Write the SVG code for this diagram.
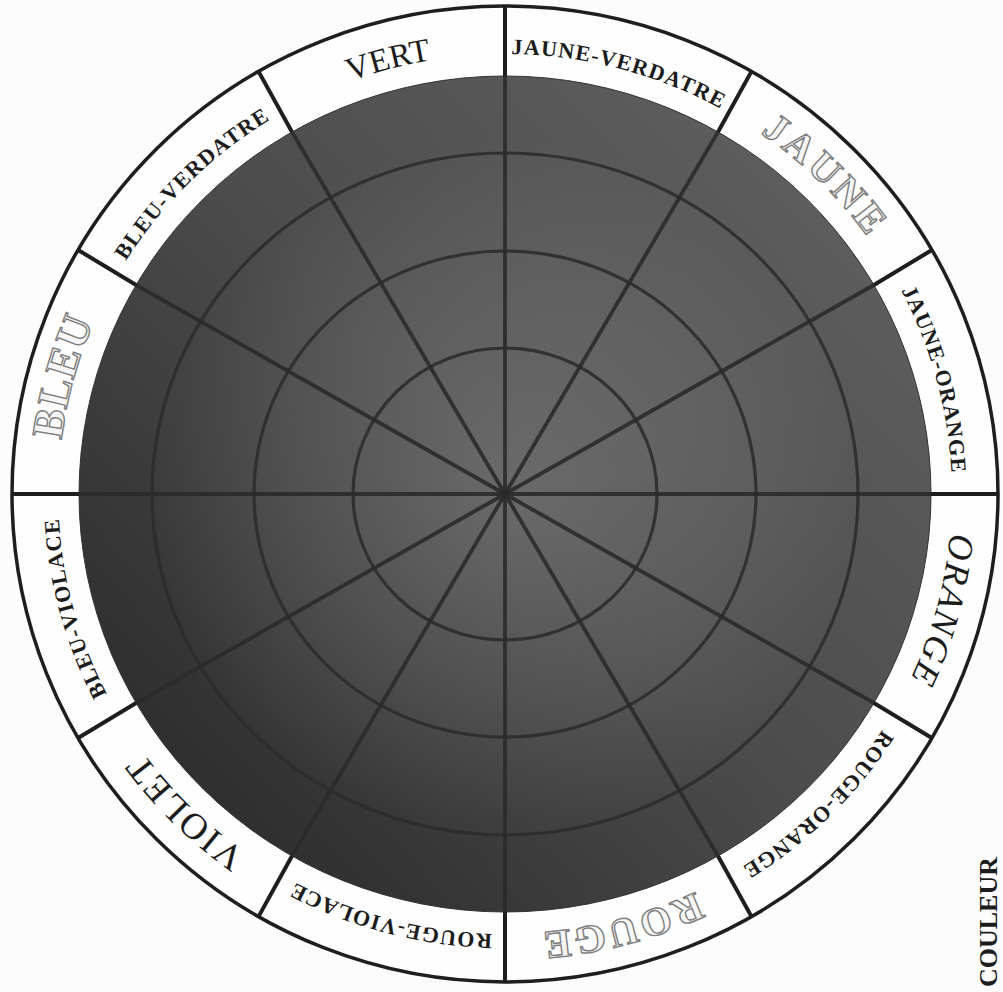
<svg xmlns="http://www.w3.org/2000/svg" width="1003" height="992" viewBox="0 0 1003 992">
  <style>
    .lbl { font-family: "Liberation Serif", "DejaVu Serif", serif; fill: #1c1c1c; }
    .sm { font-size: 22px; font-weight: bold; letter-spacing: 1.2px; }
    .big { font-size: 33px; }
    .ital { font-size: 36px; font-style: italic; letter-spacing: 2px; }
    .outl { fill: #f6f6f6; stroke: #7e7e7e; stroke-width: 1.4px; font-weight: bold; }
    .div { stroke: #1e1e1e; stroke-width: 4; stroke-linecap: butt; }
    .spoke { stroke: #2a2a2a; stroke-width: 3.8; stroke-opacity: 0.9; }
    .ring { fill: none; stroke: #2c2c2c; stroke-width: 3.2; stroke-opacity: 0.9; }
  </style>
  <defs>
    <linearGradient id="diag" x1="0.85" y1="0.1" x2="0.1" y2="0.8">
      <stop offset="0" stop-color="#5e5e5e"/>
      <stop offset="0.5" stop-color="#4c4c4c"/>
      <stop offset="1" stop-color="#2f2f2f"/>
    </linearGradient>
    <radialGradient id="glow" cx="0.5" cy="0.5" r="0.5">
      <stop offset="0" stop-color="#ffffff" stop-opacity="0.17"/>
      <stop offset="0.5" stop-color="#ffffff" stop-opacity="0.08"/>
      <stop offset="0.85" stop-color="#ffffff" stop-opacity="0"/>
    </radialGradient>
    <path id="lab" d="M 505,54 A 447 440 0 0 1 505,934 A 447 440 0 0 1 505,54 A 447 440 0 0 1 505,934 A 447 440 0 0 1 505,54"/>
  </defs>

  <rect width="1003" height="992" fill="#fcfcfc"/>

  <g id="wheel-ring">
    <ellipse cx="505" cy="494" rx="493" ry="488" fill="#fefefe" stroke="#1e1e1e" stroke-width="3.5"/>
  </g>

  <g id="disk">
    <ellipse cx="505" cy="494" rx="426" ry="418" fill="url(#diag)" stroke="#333" stroke-width="1"/>
    <ellipse cx="505" cy="494" rx="426" ry="418" fill="url(#glow)"/>
    <ellipse class="ring" cx="505" cy="494" rx="152" ry="146"/>
    <ellipse class="ring" cx="505" cy="494" rx="251" ry="243"/>
    <ellipse class="ring" cx="505" cy="494" rx="353" ry="341"/>
  </g>

  <g id="connectors">
    <g id="spokes">
      <line class="spoke" x1="505" y1="494" x2="505" y2="76"/>
      <line class="spoke" x1="505" y1="494" x2="718" y2="132"/>
      <line class="spoke" x1="505" y1="494" x2="873.9" y2="285"/>
      <line class="spoke" x1="505" y1="494" x2="931" y2="494"/>
      <line class="spoke" x1="505" y1="494" x2="873.9" y2="703"/>
      <line class="spoke" x1="505" y1="494" x2="718" y2="856"/>
      <line class="spoke" x1="505" y1="494" x2="505" y2="912"/>
      <line class="spoke" x1="505" y1="494" x2="292" y2="856"/>
      <line class="spoke" x1="505" y1="494" x2="136.1" y2="703"/>
      <line class="spoke" x1="505" y1="494" x2="79" y2="494"/>
      <line class="spoke" x1="505" y1="494" x2="136.1" y2="285"/>
      <line class="spoke" x1="505" y1="494" x2="292" y2="132"/>
    </g>
    <g id="dividers">
      <line class="div" x1="505" y1="76" x2="505" y2="6"/>
      <line class="div" x1="718" y1="132" x2="751.5" y2="71.4"/>
      <line class="div" x1="873.9" y1="285" x2="931.9" y2="250"/>
      <line class="div" x1="931" y1="494" x2="998" y2="494"/>
      <line class="div" x1="873.9" y1="703" x2="931.9" y2="738"/>
      <line class="div" x1="718" y1="856" x2="751.5" y2="916.6"/>
      <line class="div" x1="505" y1="912" x2="505" y2="982"/>
      <line class="div" x1="292" y1="856" x2="258.5" y2="916.6"/>
      <line class="div" x1="136.1" y1="703" x2="78.1" y2="738"/>
      <line class="div" x1="79" y1="494" x2="12" y2="494"/>
      <line class="div" x1="136.1" y1="285" x2="78.1" y2="250"/>
      <line class="div" x1="292" y1="132" x2="258.5" y2="71.4"/>
    </g>
  </g>

  <g id="labels">
    <text id="vert" class="lbl big"><textPath href="#lab" startOffset="97.917%" text-anchor="middle">VERT</textPath></text>
    <text id="jaune-verdatre" class="lbl sm"><textPath href="#lab" startOffset="52.083%" text-anchor="middle">JAUNE-VERDATRE</textPath></text>
    <text id="jaune" class="lbl outl" font-size="40" letter-spacing="4"><textPath href="#lab" startOffset="56.25%" text-anchor="middle">JAUNE</textPath></text>
    <text id="jaune-orange" class="lbl sm"><textPath href="#lab" startOffset="60.417%" text-anchor="middle">JAUNE-ORANGE</textPath></text>
    <text id="orange" class="lbl ital"><textPath href="#lab" startOffset="64.583%" text-anchor="middle">ORANGE</textPath></text>
    <text id="rouge-orange" class="lbl sm"><textPath href="#lab" startOffset="68.75%" text-anchor="middle">ROUGE-ORANGE</textPath></text>
    <text id="rouge" class="lbl outl" font-size="40" letter-spacing="3"><textPath href="#lab" startOffset="72.917%" text-anchor="middle">ROUGE</textPath></text>
    <text id="rouge-violace" class="lbl sm"><textPath href="#lab" startOffset="77.083%" text-anchor="middle">ROUGE-VIOLACE</textPath></text>
    <text id="violet" class="lbl" font-size="37" letter-spacing="2"><textPath href="#lab" startOffset="81.25%" text-anchor="middle">VIOLET</textPath></text>
    <text id="bleu-violace" class="lbl sm"><textPath href="#lab" startOffset="85.417%" text-anchor="middle">BLEU-VIOLACE</textPath></text>
    <text id="bleu" class="lbl outl" font-size="44" letter-spacing="1"><textPath href="#lab" startOffset="89.583%" text-anchor="middle">BLEU</textPath></text>
    <text id="bleu-verdatre" class="lbl sm" font-size="20"><textPath href="#lab" startOffset="93.75%" text-anchor="middle">BLEU-VERDATRE</textPath></text>
  </g>

  <text id="couleur" class="lbl" font-size="26" font-weight="bold" text-anchor="middle" transform="translate(997,922) rotate(-90)">COULEUR</text>
</svg>
